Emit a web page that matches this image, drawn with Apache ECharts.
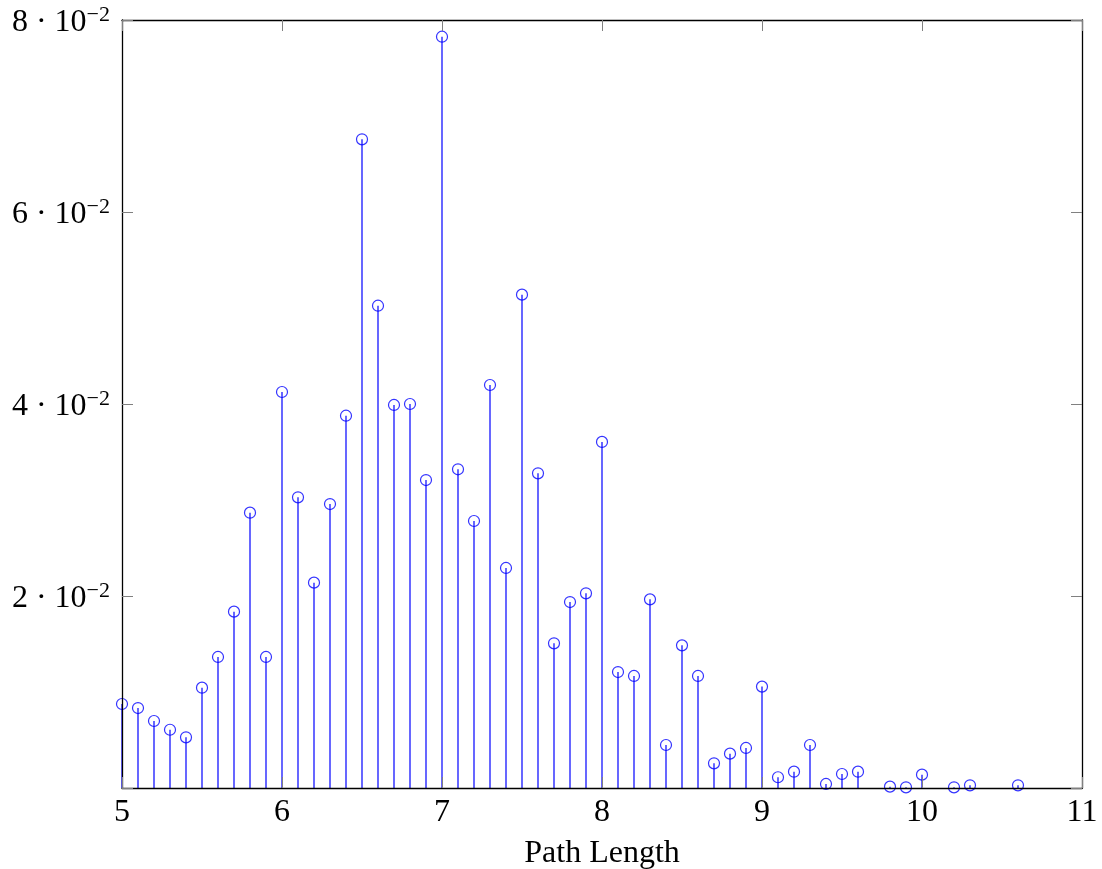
<!DOCTYPE html>
<html>
<head>
<meta charset="utf-8">
<script src="https://cdn.jsdelivr.net/npm/echarts@6/dist/echarts.min.js"></script>
<style>
  html, body { margin: 0; padding: 0; background: #fff; }
  #chart { width: 1102px; height: 869px; }
</style>
</head>
<body>
<div id="chart"></div>
<script>
// path lengths and their relative frequencies
var pathLength = [5.0, 5.1, 5.2, 5.3, 5.4, 5.5, 5.6, 5.7, 5.8, 5.9,
                  6.0, 6.1, 6.2, 6.3, 6.4, 6.5, 6.6, 6.7, 6.8, 6.9,
                  7.0, 7.1, 7.2, 7.3, 7.4, 7.5, 7.6, 7.7, 7.8, 7.9,
                  8.0, 8.1, 8.2, 8.3, 8.4, 8.5, 8.6, 8.7, 8.8, 8.9,
                  9.0, 9.1, 9.2, 9.3, 9.4, 9.5, 9.6, 9.8, 9.9,
                  10.0, 10.2, 10.3, 10.6];
var frequency = [0.00875, 0.00833, 0.00698, 0.00607, 0.00528, 0.01045, 0.01365, 0.01837, 0.02868, 0.01365,
                 0.04125, 0.03028, 0.02139, 0.02958, 0.03878, 0.06757, 0.05024, 0.0399, 0.04, 0.03208,
                 0.07826, 0.0332, 0.02781, 0.04198, 0.02292, 0.05139, 0.03278, 0.01507, 0.01937, 0.02028,
                 0.03605, 0.01208, 0.01167, 0.01965, 0.00448, 0.01486, 0.01167, 0.00257, 0.00358, 0.00417,
                 0.01056, 0.00112, 0.0017, 0.00448, 0.00042, 0.00146, 0.0017, 0.00014, 0.00007,
                 0.00139, 0.00007, 0.00028, 0.00028];
var xTicks = [5, 6, 7, 8, 9, 10, 11];
var yTicks = [0, 0.02, 0.04, 0.06, 0.08];

var points = pathLength.map(function (x, i) { return [x, frequency[i]]; });

var font = '"Liberation Serif", "DejaVu Serif", serif';
var tickStyle = { show: true, inside: true, length: 11, lineStyle: { color: '#808080', width: 1 } };
var lineStyle = { show: true, onZero: false, lineStyle: { color: '#000', width: 1.3 } };

var chart = echarts.init(document.getElementById('chart'));
chart.setOption({
  animation: false,
  backgroundColor: '#fff',
  grid: { left: 122, right: 20, top: 20, bottom: 81, containLabel: false, outerBoundsMode: 'none' },
  xAxis: [{
    type: 'value', min: xTicks[0], max: xTicks[xTicks.length - 1], interval: 1,
    position: 'bottom', z: 5,
    axisLine: lineStyle, axisTick: tickStyle, splitLine: { show: false },
    axisLabel: { fontFamily: font, fontSize: 32, color: '#000', margin: 9 },
    name: 'Path Length', nameLocation: 'middle', nameGap: 50,
    nameTextStyle: { fontFamily: font, fontSize: 32, color: '#000' }
  }, {
    type: 'value', min: xTicks[0], max: xTicks[xTicks.length - 1], interval: 1,
    position: 'top', z: 5,
    axisLine: lineStyle, axisTick: tickStyle, splitLine: { show: false },
    axisLabel: { show: false }
  }],
  yAxis: [{
    type: 'value', min: yTicks[0], max: yTicks[yTicks.length - 1], interval: 0.02,
    position: 'left', z: 5,
    axisLine: lineStyle, axisTick: tickStyle, splitLine: { show: false },
    axisLabel: {
      margin: 12, color: '#000', padding: [6, 0, 0, 0],
      formatter: function (v) {
        if (v === 0) return '';
        return '{m|' + Math.round(v * 100) + ' · 10}{s|−2}';
      },
      rich: {
        m: { fontFamily: font, fontSize: 32, color: '#000', lineHeight: 38 },
        s: { fontFamily: font, fontSize: 22, color: '#000', lineHeight: 22, verticalAlign: 'top' }
      }
    }
  }, {
    type: 'value', min: yTicks[0], max: yTicks[yTicks.length - 1], interval: 0.02,
    position: 'right', z: 5,
    axisLine: lineStyle, axisTick: tickStyle, splitLine: { show: false },
    axisLabel: { show: false }
  }],
  series: [{
    // the stems
    type: 'custom',
    data: points,
    z: 2,
    renderItem: function (params, api) {
      var base = api.coord([api.value(0), 0]);
      var top = api.coord([api.value(0), api.value(1)]);
      return {
        type: 'line',
        shape: { x1: base[0], y1: base[1], x2: top[0], y2: top[1] },
        style: { stroke: '#0000ff', lineWidth: 1.2 }
      };
    }
  }, {
    type: 'scatter',
    data: points,
    z: 3,
    symbol: 'circle',
    symbolSize: 11,
    itemStyle: { color: 'rgba(0,0,0,0)', borderColor: '#0000ff', borderWidth: 1.2 }
  }]
});
</script>
</body>
</html>
